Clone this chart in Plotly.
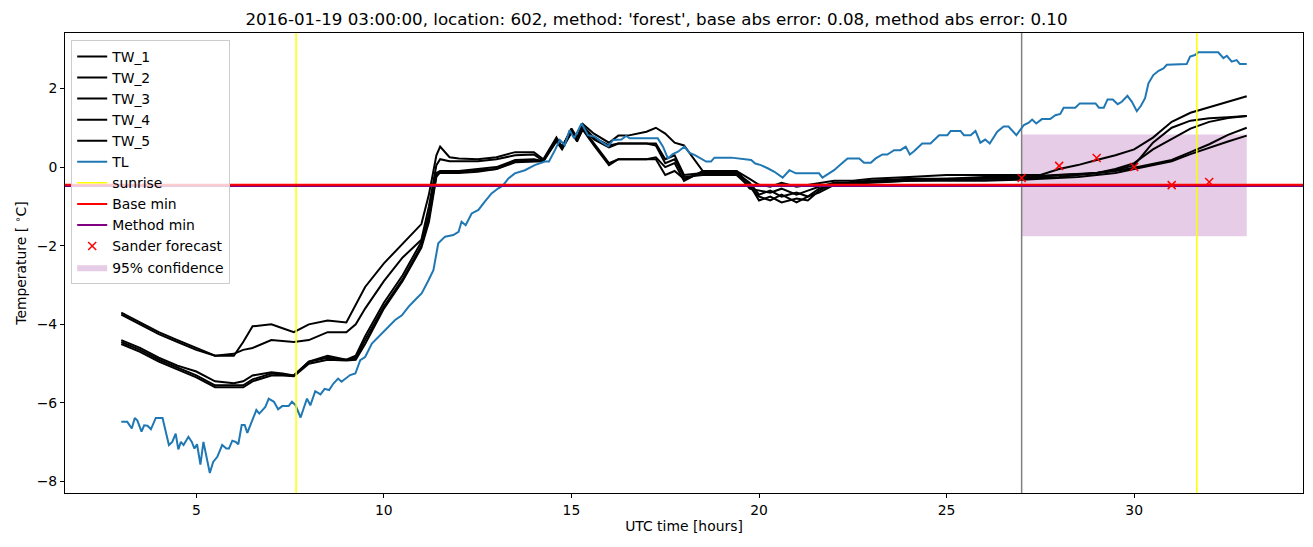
import plotly.graph_objects as go

# ---------------- data ----------------
tw_hours = [3, 3.5, 4, 4.5, 5, 5.5, 6, 6.25, 6.5, 7, 7.3, 7.6, 8, 8.5, 9, 9.25, 9.5,
            10, 10.5, 11, 11.2, 11.4, 11.5, 11.75, 12, 12.5, 13, 13.5, 14, 14.25,
            14.6, 14.75, 15, 15.15, 15.3, 15.6, 16, 16.25, 16.5, 17, 17.25, 17.5, 17.75, 18,
            18.5, 19, 19.4, 19.75, 20, 20.3, 20.6, 21, 21.3, 21.6, 22, 22.5, 23, 24, 25, 26,
            27, 27.5, 28, 28.5, 29, 29.5, 30, 30.5, 31, 31.5, 32, 32.5, 33]

tw_1 = [-3.7, -3.95, -4.2, -4.4, -4.6, -4.8, -4.8,
        -4.45, -4.05, -4.0, -4.1, -4.2,
        -4.0, -3.9, -3.95, -3.5, -3.05,
        -2.45, -1.95, -1.45, -0.7, 0.3, 0.52, 0.25,
        0.22, 0.2, 0.25, 0.38, 0.38, 0.2,
        0.75, 0.5, 0.98, 0.75, 1.1,
        0.85, 0.62, 0.8, 0.8,
        0.9, 1.0, 0.85, 0.62, 0.55,
        -0.1, -0.1, -0.1, -0.3,
        -0.45, -0.5, -0.4,
        -0.5, -0.45, -0.4,
        -0.35, -0.35, -0.3,
        -0.25, -0.2, -0.2,
        -0.2, -0.2, -0.05, 0.05, 0.18, 0.3,
        0.45, 0.75, 1.15, 1.38, 1.52, 1.66, 1.8]

tw_2 = [-3.75, -4.0, -4.25, -4.45, -4.65, -4.8, -4.75,
        -4.65, -4.6, -4.4, -4.42, -4.45,
        -4.4, -4.2, -4.2, -4.0, -3.6,
        -2.9, -2.3, -1.85, -1.0, 0.05, 0.2, 0.15,
        0.15, 0.15, 0.2, 0.3, 0.32, 0.15,
        0.72, 0.52, 0.95, 0.72, 1.05,
        0.75, 0.55, 0.6, 0.6,
        0.6, 0.6, 0.2, 0.3, -0.2,
        -0.15, -0.15, -0.15, -0.4,
        -0.7, -0.6, -0.75,
        -0.65, -0.75, -0.55,
        -0.45, -0.4, -0.35,
        -0.3, -0.3, -0.25,
        -0.25, -0.22, -0.2, -0.18, -0.15, -0.08,
        0.05, 0.62, 1.0, 1.18, 1.24, 1.27, 1.3]

tw_3 = [-4.4, -4.6, -4.85, -5.05, -5.2, -5.45, -5.5,
        -5.45, -5.3, -5.22, -5.25, -5.3,
        -4.95, -4.8, -4.9, -4.8, -4.3,
        -3.45, -2.75, -1.9, -1.2, -0.15, -0.1, -0.1,
        -0.1, -0.05, 0.0, 0.18, 0.2, 0.15,
        0.7, 0.5, 0.95, 0.7, 1.0,
        0.7, 0.5, 0.6, 0.6,
        0.6, 0.55, 0.1, 0.2, -0.25,
        -0.2, -0.2, -0.2, -0.5,
        -0.75, -0.85, -0.7,
        -0.9, -0.75, -0.65,
        -0.45, -0.38, -0.35,
        -0.32, -0.3, -0.3,
        -0.3, -0.25, -0.2, -0.18, -0.15, -0.05,
        0.1, 0.45, 0.72, 0.98, 1.15, 1.25, 1.3]

tw_4 = [-4.45, -4.65, -4.9, -5.1, -5.3, -5.55, -5.55,
        -5.55, -5.4, -5.25, -5.28, -5.3,
        -4.95, -4.85, -4.9, -4.85, -4.4,
        -3.55, -2.85, -2.0, -1.3, -0.2, -0.15, -0.15,
        -0.15, -0.12, -0.05, 0.15, 0.18, 0.15,
        0.68, 0.48, 0.9, 0.68, 0.95,
        0.55, 0.05, 0.2, 0.2,
        0.2, 0.2, -0.2, -0.1, -0.3,
        -0.15, -0.1, -0.1, -0.45,
        -0.85, -0.75, -0.9,
        -0.8, -0.85, -0.6,
        -0.4, -0.4, -0.38,
        -0.35, -0.32, -0.3,
        -0.3, -0.28, -0.25, -0.2, -0.15, -0.1,
        -0.02, 0.08, 0.18, 0.38, 0.58, 0.82, 1.0]

tw_5 = [-4.5, -4.7, -4.95, -5.15, -5.35, -5.6, -5.6,
        -5.6, -5.45, -5.3, -5.3, -5.32,
        -5.0, -4.9, -4.92, -4.9, -4.5,
        -3.6, -2.9, -2.05, -1.4, -0.25, -0.12, -0.12,
        -0.12, -0.08, -0.05, 0.12, 0.15, 0.15,
        0.65, 0.45, 0.88, 0.65, 0.98,
        0.6, 0.1, 0.2, 0.2,
        0.2, 0.25, 0.0, 0.1, -0.35,
        -0.1, -0.12, -0.12, -0.55,
        -0.6, -0.65, -0.55,
        -0.7, -0.6, -0.5,
        -0.4, -0.42, -0.4,
        -0.35, -0.35, -0.35,
        -0.32, -0.3, -0.28, -0.25, -0.2, -0.15,
        -0.05, 0.05, 0.15, 0.33, 0.5, 0.65, 0.8]

tl_hours = [3.0, 3.16, 3.28, 3.36, 3.43, 3.54, 3.61, 3.70, 3.79, 3.92, 4.10, 4.18, 4.27, 4.36,
            4.45, 4.52, 4.59, 4.66, 4.79, 4.88, 4.95, 5.02, 5.11, 5.19, 5.36, 5.45, 5.56, 5.69,
            5.80, 5.87, 5.96, 6.05, 6.12, 6.21, 6.29, 6.36, 6.49, 6.60, 6.68, 6.84, 6.93, 7.07,
            7.18, 7.29, 7.46, 7.55, 7.64, 7.78, 7.86, 7.95, 8.04, 8.17, 8.31, 8.42, 8.54, 8.66,
            8.78, 8.87, 9.10, 9.24, 9.37, 9.50, 9.68, 9.86, 10.12, 10.30, 10.48, 10.66, 10.83,
            11.01, 11.19, 11.32, 11.45, 11.63, 11.85, 11.99, 12.07, 12.18, 12.34, 12.52, 12.69,
            12.87, 13.05, 13.18, 13.32, 13.49, 13.76, 14.02, 14.29, 14.40, 14.56, 14.69, 14.82,
            14.95, 15.07, 15.27, 15.44, 15.62, 15.80, 15.98, 16.11, 16.33, 16.46, 16.55, 17.04,
            17.30, 17.44, 17.57, 17.70, 17.84, 18.01, 18.15, 18.28, 18.46, 18.59, 18.72, 18.81,
            19.26, 19.52, 19.79, 19.90, 20.05, 20.23, 20.41, 20.63, 20.81, 20.98, 21.60, 21.69,
            21.85, 22.00, 22.18, 22.36, 22.67, 22.80, 22.98, 23.11, 23.29, 23.42, 23.60, 23.77,
            23.91, 24.02, 24.13, 24.35, 24.57, 24.80, 25.02, 25.11, 25.37, 25.46, 25.64, 25.77,
            25.90, 26.03, 26.15, 26.35, 26.52, 26.65, 26.86, 27.06, 27.19, 27.28, 27.39, 27.54,
            27.76, 27.90, 28.03, 28.12, 28.43, 28.55, 28.97, 29.06, 29.19, 29.29, 29.43, 29.56,
            29.67, 29.82, 29.94, 30.07, 30.18, 30.29, 30.38, 30.51, 30.65, 30.78, 30.87, 31.40,
            31.49, 31.62, 31.71, 32.24, 32.38, 32.47, 32.60, 32.73, 32.82, 33.00]

tl = [-6.48, -6.48, -6.65, -6.38, -6.45, -6.73, -6.57, -6.58, -6.67, -6.38, -6.38, -6.69, -7.07, -6.99,
      -6.78, -7.18, -6.99, -7.07, -6.86, -6.99, -7.16, -7.05, -7.57, -6.99, -7.78, -7.50, -7.37, -7.07,
      -7.16, -7.16, -6.96, -6.99, -7.05, -6.56, -6.56, -6.76, -6.45, -6.18, -6.27, -6.10, -5.89, -5.97,
      -6.16, -6.08, -6.08, -5.97, -6.05, -6.37, -6.14, -5.89, -6.06, -5.70, -5.78, -5.64, -5.67, -5.50,
      -5.38, -5.46, -5.29, -5.25, -4.91, -4.83, -4.49, -4.32, -4.06, -3.89, -3.77, -3.55, -3.38,
      -3.21, -2.88, -2.62, -1.94, -1.77, -1.73, -1.65, -1.39, -1.48, -1.18, -1.09, -0.88,
      -0.67, -0.54, -0.46, -0.29, -0.16, -0.08, 0.05, 0.14, 0.14, 0.43, 0.69, 0.56,
      0.94, 0.73, 1.11, 0.81, 0.77, 0.64, 0.53, 0.69, 0.70, 0.79, 0.73, 0.73,
      0.73, 0.52, 0.22, 0.33, 0.39, 0.52, 0.36, 0.31, 0.22, 0.14, 0.14, 0.24,
      0.24, 0.22, 0.18, 0.09, 0.05, -0.03, -0.12, -0.27, -0.08, -0.16, -0.16, -0.27,
      -0.16, -0.08, 0.07, 0.22, 0.22, 0.11, 0.11, 0.22, 0.32, 0.32, 0.43, 0.43,
      0.52, 0.32, 0.40, 0.60, 0.60, 0.81, 0.81, 0.92, 0.92, 0.81, 0.81, 0.92,
      0.62, 0.70, 0.60, 0.90, 1.03, 1.03, 0.81, 1.07, 1.13, 1.21, 1.11, 1.22,
      1.22, 1.32, 1.35, 1.51, 1.51, 1.62, 1.62, 1.51, 1.51, 1.72, 1.72, 1.60,
      1.66, 1.81, 1.66, 1.42, 1.56, 1.75, 2.13, 2.34, 2.45, 2.51, 2.60, 2.62,
      2.81, 2.85, 2.92, 2.92, 2.77, 2.83, 2.68, 2.72, 2.62, 2.62]

sunrise_hours = [7.66, 31.67]
forecast_start = 27.0
base_min = -0.45
method_min = -0.48
sander_hours = [27, 28, 29, 30, 31, 32]
sander_values = [-0.28, 0.03, 0.23, 0.0, -0.46, -0.38]
conf_hours = [27, 33]
conf_upper = 0.83
conf_lower = -1.76

title = ("2016-01-19 03:00:00, location: 602, method: 'forest', "
         "base abs error: 0.08, method abs error: 0.10")

x_range = [1.5, 34.5]
y_range = [-8.29, 3.41]
x_ticks = [5, 10, 15, 20, 25, 30]
y_ticks = [-8, -6, -4, -2, 0, 2]

# ---------------- figure ----------------
fig = go.Figure()
FONT = "DejaVu Sans, sans-serif"
FS = 13.9

# confidence band (behind lines)
fig.add_trace(go.Scatter(
    x=[conf_hours[0], conf_hours[1], conf_hours[1], conf_hours[0], conf_hours[0]],
    y=[conf_lower, conf_lower, conf_upper, conf_upper, conf_lower],
    fill="toself", fillcolor="rgba(128,0,128,0.2)", mode="lines",
    line=dict(width=0, color="rgba(128,0,128,0)"),
    name="95% confidence", legendrank=11, hoverinfo="skip"))

# forecast start vertical line
fig.add_trace(go.Scatter(x=[forecast_start, forecast_start], y=y_range, mode="lines",
                         line=dict(color="gray", width=1.5), showlegend=False))

for name, vals, rank in [("TW_1", tw_1, 1), ("TW_2", tw_2, 2), ("TW_3", tw_3, 3),
                         ("TW_4", tw_4, 4), ("TW_5", tw_5, 5)]:
    fig.add_trace(go.Scatter(x=tw_hours, y=vals, mode="lines", name=name,
                             line=dict(color="black", width=2), legendrank=rank))

fig.add_trace(go.Scatter(x=tl_hours, y=tl, mode="lines", name="TL",
                         line=dict(color="#1f77b4", width=2), legendrank=6))

for i, s in enumerate(sunrise_hours):
    fig.add_trace(go.Scatter(x=[s, s], y=y_range, mode="lines", name="sunrise",
                             line=dict(color="yellow", width=1.5),
                             showlegend=(i == 0), legendrank=7))

fig.add_trace(go.Scatter(x=x_range, y=[method_min, method_min], mode="lines",
                         name="Method min", line=dict(color="purple", width=2), legendrank=9))
fig.add_trace(go.Scatter(x=x_range, y=[base_min, base_min], mode="lines",
                         name="Base min", line=dict(color="red", width=2), legendrank=8))

fig.add_trace(go.Scatter(x=sander_hours, y=sander_values, mode="markers",
                         name="Sander forecast",
                         marker=dict(symbol="x-thin", size=8, line=dict(color="red", width=1.5),
                                     color="red"),
                         legendrank=10))

axis_common = dict(showgrid=False, zeroline=False, showline=True, linecolor="black",
                   linewidth=1, mirror=True, ticks="outside", ticklen=4, tickcolor="black",
                   tickfont=dict(family=FONT, size=FS, color="black"))

fig.update_layout(
    width=1313, height=547,
    margin=dict(l=65, r=10, t=33, b=54),
    paper_bgcolor="white", plot_bgcolor="white",
    title=dict(text=title, x=0.5, xanchor="center", y=0.975, yanchor="top",
               font=dict(family=FONT, size=16.7, color="black")),
    xaxis=dict(range=x_range, tickvals=x_ticks,
               title=dict(text="UTC time [hours]", font=dict(family=FONT, size=FS, color="black"),
                          standoff=4),
               **axis_common),
    yaxis=dict(range=y_range, tickvals=y_ticks,
               title=dict(text="Temperature [ <sup>∘</sup>C]",
                          font=dict(family=FONT, size=FS, color="black"), standoff=6),
               **axis_common),
    legend=dict(x=0.005, y=0.985, xanchor="left", yanchor="top",
                bgcolor="rgba(255,255,255,0.8)", bordercolor="#cccccc", borderwidth=1,
                font=dict(family=FONT, size=FS, color="black"), tracegroupgap=0,
                itemwidth=30),
    showlegend=True,
)

fig.write_html("out.html")
